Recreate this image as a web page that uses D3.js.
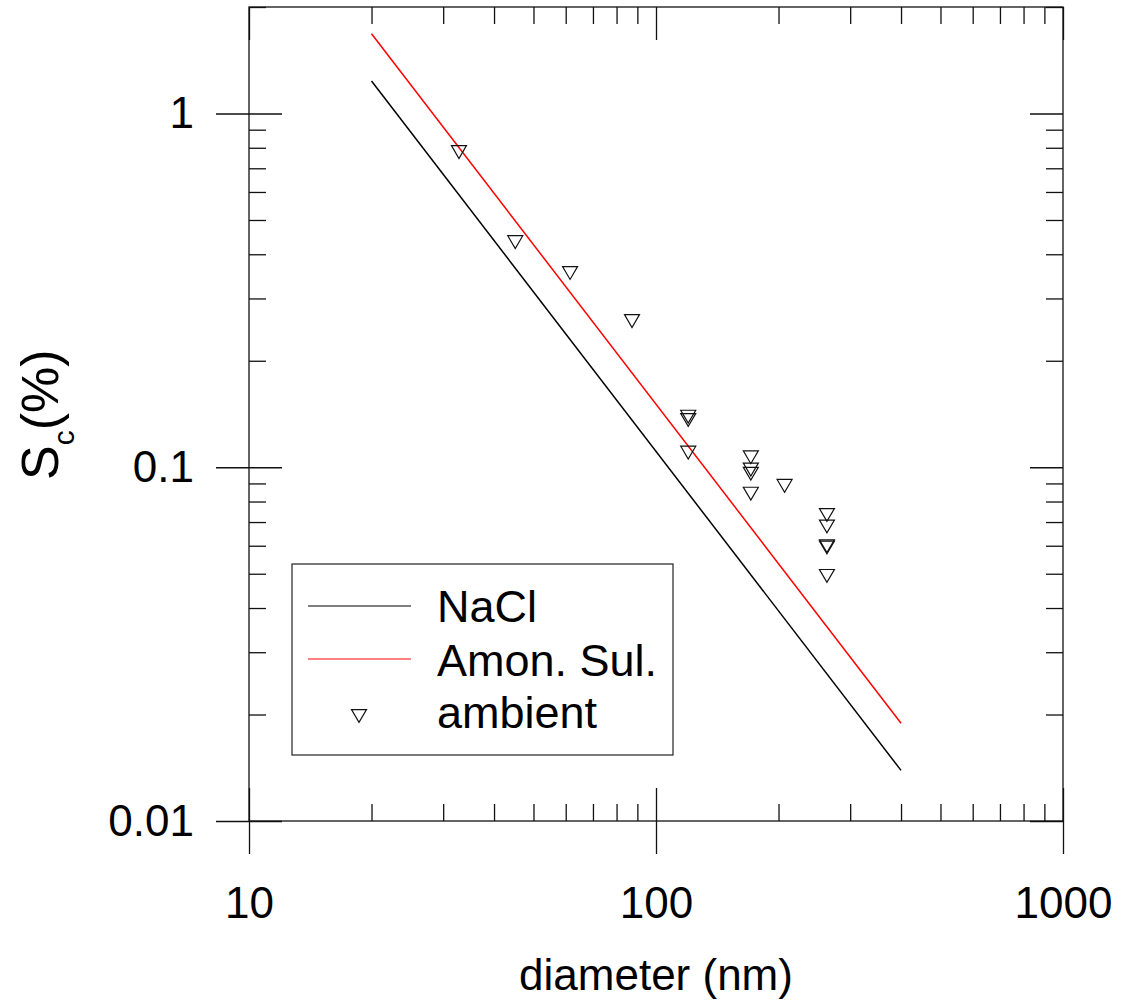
<!DOCTYPE html>
<html>
<head>
<meta charset="utf-8">
<script src="https://cdn.jsdelivr.net/npm/d3@7"></script>
<style>
  html, body { margin: 0; padding: 0; background: #fff; }
  svg { display: block; font-family: "Liberation Sans", Arial, sans-serif; }
</style>
</head>
<body>
<svg id="chart" width="1121" height="1000"></svg>
<script>
// Critical supersaturation vs. dry diameter (log-log)

// Theory lines: endpoints in log-log space (straight lines)
const lineDiam = [20, 400];
const naclSc = [1.236, 0.0139];
const amSulSc = [1.68, 0.0189];

// Ambient measurements
const ambientDiam = [32.8, 45.1, 61.5, 87.3, 120, 120, 120, 171, 171, 171, 171, 207, 263, 263, 263, 263, 263];
const ambientSc = [0.778, 0.433, 0.354, 0.259, 0.139, 0.136, 0.110, 0.1067, 0.0985, 0.0959, 0.0842, 0.0886, 0.0733, 0.0680, 0.0598, 0.0593, 0.0493];

// Axis ticks
const xMajor = [10, 100, 1000];
const xMinor = [20, 30, 40, 50, 60, 70, 80, 90, 200, 300, 400, 500, 600, 700, 800, 900];
const xLabels = ["10", "100", "1000"];
const yMajor = [0.01, 0.1, 1];
const yMinor = [0.02, 0.03, 0.04, 0.05, 0.06, 0.07, 0.08, 0.09, 0.2, 0.3, 0.4, 0.5, 0.6, 0.7, 0.8, 0.9, 2];
const yLabels = ["0.01", "0.1", "1"];

const legendItems = ["NaCl", "Amon. Sul.", "ambient"];

const svg = d3.select("#chart");
const L = 249, R = 1063, T = 7, B = 821;

const x = d3.scaleLog().domain([10, 1000]).range([L, R]);
const y = d3.scaleLog().domain([0.01, 2]).range([B, T]);

const tickStroke = "#111";
const sw = 1.3;

function styleAxis(g) {
  g.select(".domain").remove();
  g.selectAll(".tick line").attr("stroke", tickStroke).attr("stroke-width", sw);
  g.selectAll(".tick text").attr("fill", "#000").attr("font-size", 44)
    .attr("font-family", "'Liberation Sans', Arial, sans-serif");
}

// Bottom: major ticks outward with labels
svg.append("g").attr("transform", `translate(0,${B})`)
  .call(d3.axisBottom(x).tickValues(xMajor).tickSize(33).tickPadding(33)
    .tickFormat((d, i) => xLabels[i]))
  .call(styleAxis);
// Bottom: major inward
svg.append("g").attr("transform", `translate(0,${B})`)
  .call(d3.axisBottom(x).tickValues(xMajor).tickSize(-33).tickFormat(""))
  .call(styleAxis);
// Bottom: minor inward
svg.append("g").attr("transform", `translate(0,${B})`)
  .call(d3.axisBottom(x).tickValues(xMinor).tickSize(-17).tickFormat(""))
  .call(styleAxis);
// Top: major and minor inward
svg.append("g").attr("transform", `translate(0,${T})`)
  .call(d3.axisTop(x).tickValues(xMajor).tickSize(-33).tickFormat(""))
  .call(styleAxis);
svg.append("g").attr("transform", `translate(0,${T})`)
  .call(d3.axisTop(x).tickValues(xMinor).tickSize(-17).tickFormat(""))
  .call(styleAxis);

// Left: major outward with labels
svg.append("g").attr("transform", `translate(${L},0)`)
  .call(d3.axisLeft(y).tickValues(yMajor).tickSize(33).tickPadding(22)
    .tickFormat((d, i) => yLabels[i]))
  .call(styleAxis);
svg.append("g").attr("transform", `translate(${L},0)`)
  .call(d3.axisLeft(y).tickValues(yMajor).tickSize(-33).tickFormat(""))
  .call(styleAxis);
svg.append("g").attr("transform", `translate(${L},0)`)
  .call(d3.axisLeft(y).tickValues(yMinor).tickSize(-17).tickFormat(""))
  .call(styleAxis);
// Right: inward
svg.append("g").attr("transform", `translate(${R},0)`)
  .call(d3.axisRight(y).tickValues(yMajor).tickSize(-33).tickFormat(""))
  .call(styleAxis);
svg.append("g").attr("transform", `translate(${R},0)`)
  .call(d3.axisRight(y).tickValues(yMinor).tickSize(-17).tickFormat(""))
  .call(styleAxis);

// Frame
svg.append("rect")
  .attr("x", L).attr("y", T).attr("width", R - L).attr("height", B - T)
  .attr("fill", "none").attr("stroke", tickStroke).attr("stroke-width", sw);

// Theory lines
const line = d3.line().x(d => x(d[0])).y(d => y(d[1]));
svg.append("path")
  .datum(lineDiam.map((d, i) => [d, naclSc[i]]))
  .attr("d", line).attr("fill", "none").attr("stroke", "#000").attr("stroke-width", 1.5);
svg.append("path")
  .datum(lineDiam.map((d, i) => [d, amSulSc[i]]))
  .attr("d", line).attr("fill", "none").attr("stroke", "#f00").attr("stroke-width", 1.5);

// Open down-pointing triangle marker
const tri = "M-7.5,-6.4L7.5,-6.4L0,6.4Z";
svg.append("g").selectAll("path")
  .data(ambientDiam.map((d, i) => [d, ambientSc[i]]))
  .join("path")
  .attr("d", tri)
  .attr("transform", d => `translate(${x(d[0])},${y(d[1])})`)
  .attr("fill", "none").attr("stroke", "#111").attr("stroke-width", 1.2);

// Legend
const lg = svg.append("g");
lg.append("rect").attr("x", 292).attr("y", 564).attr("width", 381).attr("height", 191)
  .attr("fill", "#fff").attr("stroke", "#222").attr("stroke-width", 1.2);
const rowY = [606, 659, 712];
const legColors = ["#000", "#f00"];
[0, 1].forEach(i => {
  lg.append("line").attr("x1", 308).attr("x2", 411).attr("y1", rowY[i]).attr("y2", rowY[i])
    .attr("stroke", legColors[i]).attr("stroke-width", 1);
});
lg.append("path").attr("d", tri).attr("transform", `translate(359,${rowY[2] + 4})`)
  .attr("fill", "none").attr("stroke", "#111").attr("stroke-width", 1.2);
lg.selectAll("text.leg").data(legendItems).join("text")
  .attr("class", "leg")
  .attr("x", 437).attr("y", (d, i) => [622, 676, 728][i])
  .attr("font-size", 45).attr("fill", "#000")
  .text(d => d);

// Axis titles
svg.append("text")
  .attr("x", x(100)).attr("y", 990).attr("text-anchor", "middle")
  .attr("font-size", 44).attr("fill", "#000")
  .text("diameter (nm)");

const yt = svg.append("text")
  .attr("transform", "translate(58,480) rotate(-90)")
  .attr("font-size", 52).attr("fill", "#000");
yt.append("tspan").text("S");
yt.append("tspan").attr("font-size", 30).attr("dy", 16).text("c");
yt.append("tspan").attr("dy", -16).text("(%)");
</script>
</body>
</html>
